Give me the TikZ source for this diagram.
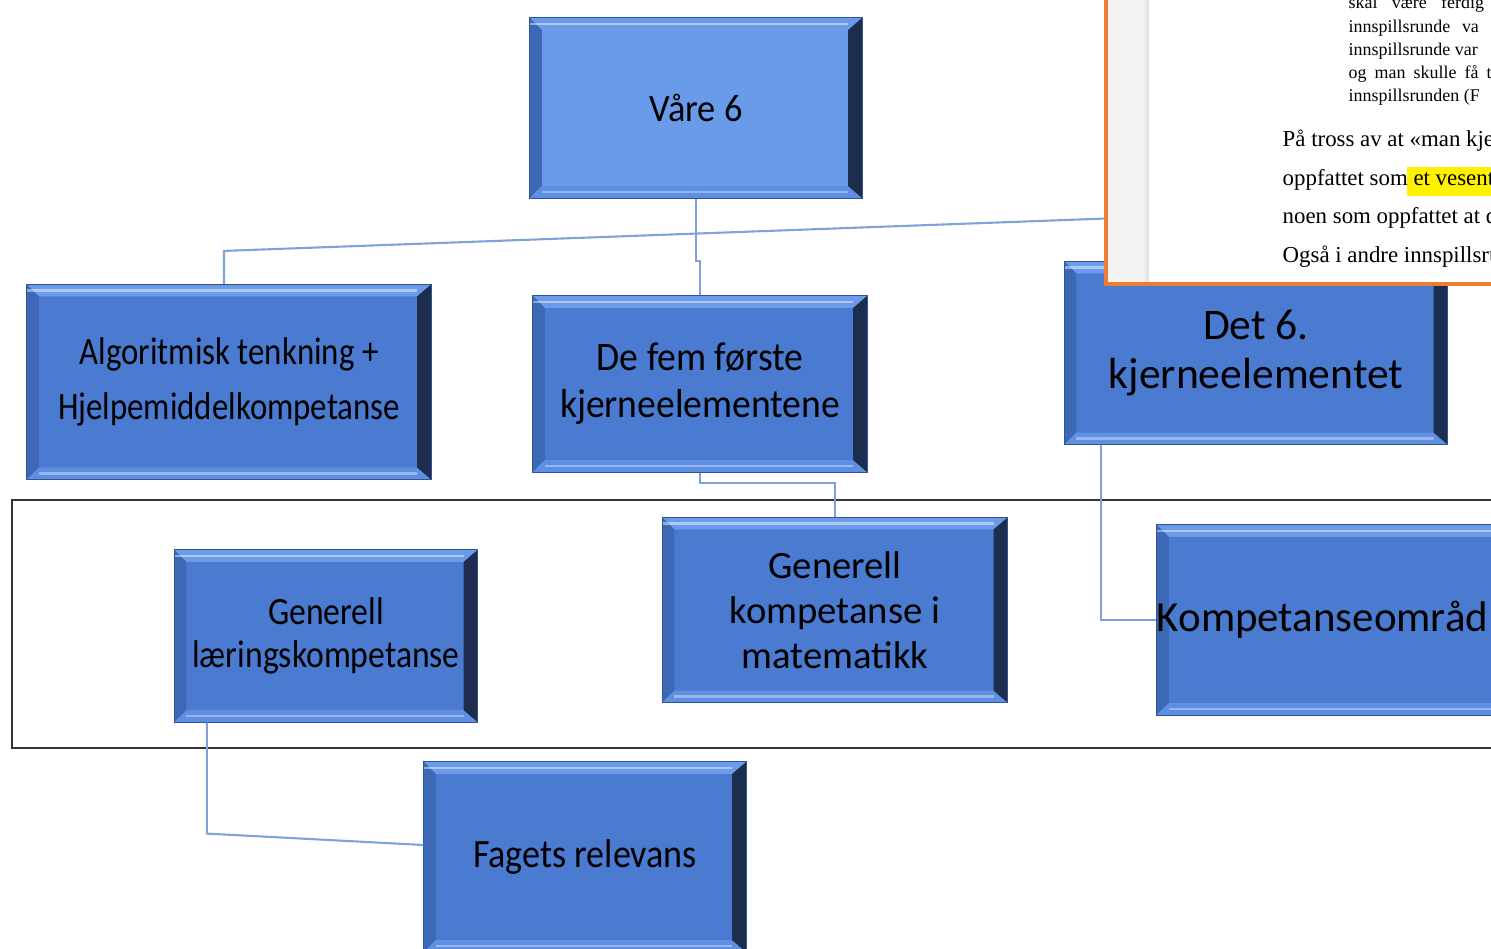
\documentclass[tikz,border=0pt]{standalone}
\usepackage{fontspec}
\newfontfamily\boxfont{Carlito}
\newfontfamily\docfont{Liberation Serif}
\newcommand\kfont[3]{\boxfont\addfontfeature{FakeStretch=#3}\fontsize{#1}{#2}\selectfont}

\definecolor{kfill}{HTML}{4A7BD0}
\definecolor{klight}{HTML}{6A9BEA}
\definecolor{ktop}{HTML}{6C9BEA}
\definecolor{kleft}{HTML}{3C68B5}
\definecolor{kbottom}{HTML}{5E8FE3}
\definecolor{kdark}{HTML}{1C2D4D}
\definecolor{kedge}{HTML}{2F5597}
\definecolor{linkblue}{HTML}{7FA2DA}
\definecolor{docorange}{HTML}{ED7D31}
\definecolor{docgray}{HTML}{F4F3F1}
\definecolor{markyellow}{HTML}{FFF200}

\tikzset{
  kbox/.style={fill=kfill, draw=kedge, line width=0.3pt, inner sep=0pt, align=center,
    path picture={
      \path (path picture bounding box.north west) coordinate (pnw)
            (path picture bounding box.north east) coordinate (pne)
            (path picture bounding box.south west) coordinate (psw)
            (path picture bounding box.south east) coordinate (pse);
      \fill[ktop] (pnw) -- (pne) -- ([shift={(-1.4mm,-1.2mm)}]pne) -- ([shift={(1.2mm,-1.2mm)}]pnw) -- cycle;
      \fill[kleft] (pnw) -- (psw) -- ([shift={(1.2mm,1.2mm)}]psw) -- ([shift={(1.2mm,-1.2mm)}]pnw) -- cycle;
      \fill[kbottom] (psw) -- (pse) -- ([shift={(-1.4mm,1.2mm)}]pse) -- ([shift={(1.2mm,1.2mm)}]psw) -- cycle;
      \fill[kdark] (pne) -- (pse) -- ([shift={(-1.4mm,1.2mm)}]pse) -- ([shift={(-1.4mm,-1.2mm)}]pne) -- cycle;
      \draw[white, opacity=.45, line width=0.8pt] ([yshift=-0.6mm]pnw) -- ([shift={(-1.4mm,-0.6mm)}]pne);
      \draw[white, opacity=.35, line width=0.8pt] ([shift={(1.2mm,0.6mm)}]psw) -- ([shift={(-1.4mm,0.6mm)}]pse);
    }},
  link/.style={draw=linkblue, line width=0.6pt},
  frame/.style={draw=black!80, line width=0.7pt},
  docsmall/.style={font=\docfont\fontsize{5.1}{6}\selectfont, inner sep=0pt, anchor=base west},
  docmain/.style={font=\docfont\fontsize{6.5}{8}\selectfont, inner sep=0pt, anchor=base west}
}

\begin{document}
\begin{tikzpicture}[x=0.01cm,y=-0.01cm]
    \useasboundingbox (0,0) rectangle (1491,948);

    % Boxes
    \node[kbox, fill=klight, minimum width=3.32cm, minimum height=1.8cm,
          font=\kfont{11}{13}{0.94}] (vaare) at (696,108) {Våre 6};
    \node[kbox, minimum width=4.04cm, minimum height=1.95cm,
          font=\kfont{11}{15.6}{0.85}] (algo) at (229,382)
          {Algoritmisk tenkning +\\Hjelpemiddelkompetanse};
    \node[kbox, minimum width=3.34cm, minimum height=1.76cm,
          font=\kfont{11.5}{13.4}{0.93}] (defem) at (700,384)
          {De fem første\\kjerneelementene};
    \node[kbox, minimum width=3.83cm, minimum height=1.83cm,
          font=\kfont{12.4}{14.2}{1}] (det6) at (1256,353)
          {Det 6.\\kjerneelementet};
    \node[kbox, minimum width=3.03cm, minimum height=1.72cm,
          font=\kfont{11}{12.4}{0.87}] (genlaer) at (326,636)
          {Generell\\læringskompetanse};
    \node[kbox, minimum width=3.45cm, minimum height=1.85cm,
          font=\kfont{11}{12.8}{1}] (genmat) at (835,610)
          {Generell\\kompetanse i\\matematikk};
    \node[kbox, minimum width=4.2cm, minimum height=1.9cm, text width=4.2cm,
          align=left, font=\kfont{12.2}{14}{1}] (komp) at (1367,620)
          {Kompetanseområd};
    \node[kbox, minimum width=3.22cm, minimum height=1.9cm,
          font=\kfont{11.4}{13}{0.9}] (fagets) at (585,857) {Fagets relevans};

    % Frame round the middle row
    \draw[frame] (12,500) rectangle (1530,748);

    % Connectors
    \coordinate (bend) at (1256,213);
    \draw[link] (vaare.south) -- ++(0,62) -| (defem.north);
    \draw[link] ([xshift=-0.05cm]algo.north) -- ++(0,-33) -- (bend) -- (det6.north);
    \draw[link] (defem.south) -- ++(0,10) -| (genmat.north);
    \draw[link] ([xshift=0.37cm]det6.south west) |- (komp.west);
    \draw[link] ([xshift=0.33cm]genlaer.south west) -- ++(0,111)
                -- ([yshift=0.12cm]fagets.west);

    % Document page on top
    \fill[white] (1106,0) rectangle (1495,284);
    \fill[docgray] (1108,0) rectangle (1146,284);
    \shade[left color=docgray, right color=black!12] (1142,0) rectangle (1149,284);
    \draw[docorange, line width=0.9pt] (1106,0) -- (1106,284) -- (1495,284);

    \fill[markyellow] (1407,167) rectangle (1495,196);

    \node[docsmall] (s1) at (1348,8)   {\spaceskip=0.8em skal være ferdig};
    \node[docsmall] (s2) at (1348,32)  {\spaceskip=0.65em innspillsrunde va};
    \node[docsmall] (s3) at (1348,55)  {innspillsrunde var};
    \node[docsmall] (s4) at (1348,78)  {\spaceskip=0.45em og man skulle få t};
    \node[docsmall] (s5) at (1348,101) {innspillsrunden (F};

    \node[docmain] (m1) at (1282,146) {På tross av at «man kje};
    \node[docmain] (m2) at (1282,185) {oppfattet som et vesent};
    \node[docmain] (m3) at (1282,223) {noen som oppfattet at d};
    \node[docmain] (m4) at (1282,262) {Også i andre innspillsru};
\end{tikzpicture}
\end{document}
